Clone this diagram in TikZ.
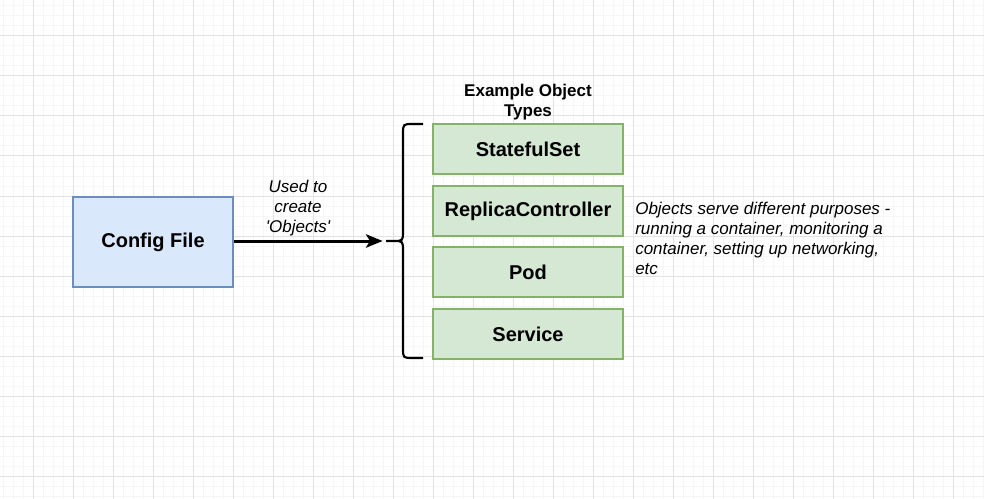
\documentclass[tikz,border=0pt]{standalone}
\usepackage{fontspec}
\setmainfont{Liberation Sans}
\usetikzlibrary{arrows.meta}
\definecolor{cfgfill}{HTML}{DAE8FC}
\definecolor{cfgline}{HTML}{6C8EBF}
\definecolor{objfill}{HTML}{D5E8D4}
\definecolor{objline}{HTML}{82B366}
\definecolor{gridminor}{HTML}{F6F6F6}
\definecolor{gridmajor}{HTML}{E2E2E2}

\begin{document}
\begin{tikzpicture}[x=0.75pt,y=-0.75pt,
        objbox/.style={draw=objline,fill=objfill,line width=1.5pt,minimum width=142.5pt,minimum height=37.5pt,inner sep=0pt,font=\fontsize{15}{18}\selectfont\bfseries},
        note/.style={font=\fontsize{12.75}{15}\selectfont\itshape,inner sep=0pt}]
        \useasboundingbox[fill=white] (0,0) rectangle (984,499);
        % background grid
        \foreach \x in {3,13,...,983} \draw[gridminor,line width=0.75pt] (\x,0)--(\x,499);
        \foreach \y in {6,16,...,496} \draw[gridminor,line width=0.75pt] (0,\y)--(984,\y);
        \foreach \x in {33,73,...,953} \draw[gridmajor,line width=0.75pt] (\x,0)--(\x,499);
        \foreach \y in {36,76,...,476} \draw[gridmajor,line width=0.75pt] (0,\y)--(984,\y);

        \node[draw=cfgline,fill=cfgfill,line width=0.9pt,minimum width=120pt,minimum height=67.5pt,inner sep=0pt,font=\fontsize{15}{18}\selectfont\bfseries] (config) at (153,242) {Config File};

        \node[objbox] (stateful) at (528,149) {StatefulSet};
        \node[objbox] (replica) at (528,211) {ReplicaController};
        \node[objbox] (pod) at (528,272) {Pod};
        \node[objbox] (service) at (528,334) {Service};

        \node[font=\fontsize{12.75}{15}\selectfont\bfseries,align=center,inner sep=0pt] (types) at (528,102) {Example Object\\Types};

        % brace
        \coordinate (tip) at (386,241);
        \draw[line width=1.6pt] (423,124) -- (413,124) .. controls (403,124) .. (403,134) -- (403,231)
            .. controls (403,241) .. (393,241) -- (tip) (393,241) .. controls (403,241) .. (403,251)
            -- (403,348) .. controls (403,358) .. (413,358) -- (423,358);

        \draw[line width=2.25pt,-{Stealth[length=12.5pt,width=10pt,inset=3pt]},shorten >=2.5pt] (config.east |- tip) -- (tip);
        \node[note,align=center] (used) at (298,208) {Used to\\create\\\textquotesingle Objects\textquotesingle};

        \node[note,align=left,anchor=west] (purpose) at (635,238) {Objects serve different purposes -\\running a container, monitoring a\\container, setting up networking,\\etc};
\end{tikzpicture}
\end{document}
